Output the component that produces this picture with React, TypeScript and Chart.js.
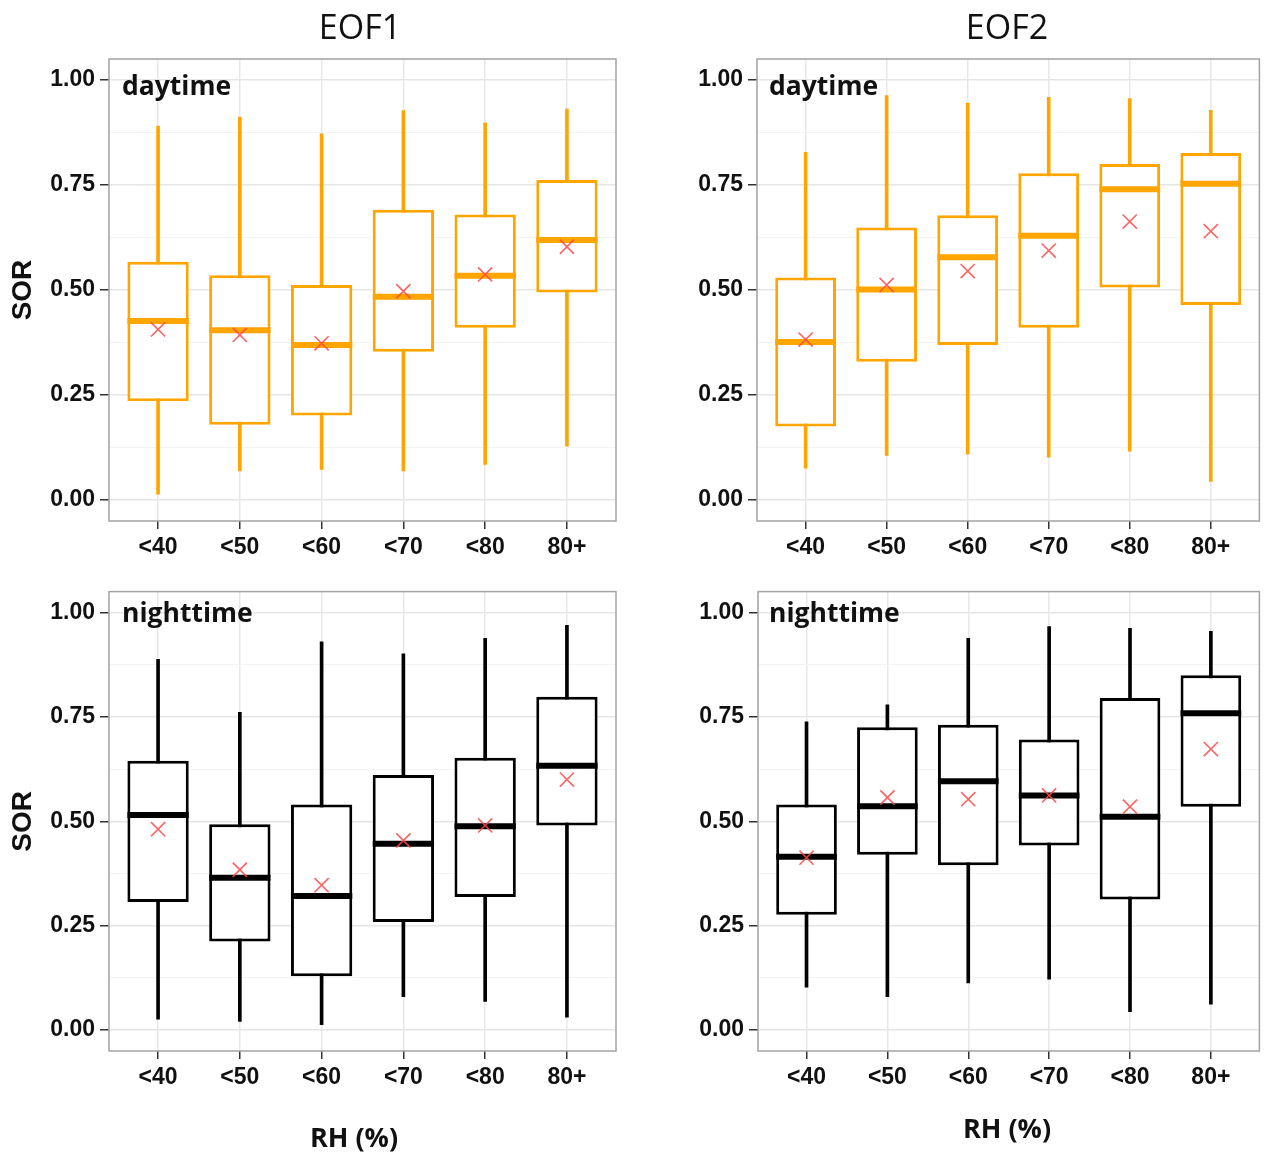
import React, { useEffect, useRef } from 'react';
import { Chart, registerables } from 'chart.js';

Chart.register(...registerables);

// ---------- data ----------
const categories = ['<40', '<50', '<60', '<70', '<80', '80+'];
const yMajorTicks = [0, 0.25, 0.5, 0.75, 1];
const yMinorTicks = [0.125, 0.375, 0.625, 0.875];

// EOF1 daytime
const eof1DayLow = [0.014, 0.069, 0.073, 0.069, 0.085, 0.128];
const eof1DayQ1 = [0.235, 0.179, 0.201, 0.353, 0.41, 0.494];
const eof1DayMedian = [0.426, 0.404, 0.369, 0.484, 0.534, 0.619];
const eof1DayQ3 = [0.567, 0.535, 0.512, 0.691, 0.68, 0.762];
const eof1DayHigh = [0.89, 0.912, 0.872, 0.927, 0.898, 0.931];
const eof1DayMean = [0.406, 0.393, 0.373, 0.497, 0.537, 0.603];

// EOF2 daytime
const eof2DayLow = [0.076, 0.106, 0.109, 0.102, 0.116, 0.044];
const eof2DayQ1 = [0.175, 0.329, 0.369, 0.41, 0.506, 0.464];
const eof2DayMedian = [0.376, 0.501, 0.578, 0.629, 0.74, 0.753];
const eof2DayQ3 = [0.53, 0.649, 0.678, 0.778, 0.8, 0.826];
const eof2DayHigh = [0.828, 0.963, 0.945, 0.959, 0.956, 0.928];
const eof2DayMean = [0.382, 0.512, 0.545, 0.594, 0.663, 0.64];

// EOF1 nighttime
const eof1NightLow = [0.026, 0.021, 0.013, 0.08, 0.069, 0.031];
const eof1NightQ1 = [0.307, 0.212, 0.129, 0.259, 0.319, 0.49];
const eof1NightMedian = [0.515, 0.365, 0.321, 0.446, 0.488, 0.633];
const eof1NightQ3 = [0.645, 0.493, 0.54, 0.611, 0.652, 0.798];
const eof1NightHigh = [0.888, 0.761, 0.93, 0.901, 0.938, 0.969];
const eof1NightMean = [0.481, 0.384, 0.347, 0.454, 0.49, 0.6];

// EOF2 nighttime
const eof2NightLow = [0.103, 0.08, 0.113, 0.122, 0.044, 0.062];
const eof2NightQ1 = [0.276, 0.42, 0.395, 0.442, 0.313, 0.535];
const eof2NightMedian = [0.415, 0.536, 0.596, 0.562, 0.511, 0.759];
const eof2NightQ3 = [0.54, 0.725, 0.731, 0.696, 0.795, 0.85];
const eof2NightHigh = [0.738, 0.779, 0.938, 0.966, 0.962, 0.955];
const eof2NightMean = [0.413, 0.557, 0.553, 0.562, 0.535, 0.673];

// ---------- styles ----------
const ORANGE = '#FFA500';
const BLACK = '#000000';
const MEAN_COLOR = 'rgba(255, 70, 70, 0.85)';
const BOX_WIDTH = 0.75;
const TICK_FONT = { family: '"Liberation Sans", Arial, sans-serif', weight: 'bold' as const, size: 23 };

const panelBorder = {
  id: 'panelBorder',
  afterDatasetsDraw(chart: any) {
    const { ctx, chartArea } = chart;
    const { left, top, right, bottom } = chartArea;
    ctx.save();
    ctx.strokeStyle = '#a3a3a3';
    ctx.lineWidth = 1.5;
    ctx.strokeRect(left, top, right - left, bottom - top);
    ctx.restore();
  },
};

type PanelProps = {
  low: number[];
  q1: number[];
  median: number[];
  q3: number[];
  high: number[];
  mean: number[];
  color: string;
  left: number;
  top: number;
  width: number;
  height: number;
  yAxisWidth: number;
  xAxisHeight: number;
  padTop: number;
  padRight: number;
  showYTitle: boolean;
};

function Panel(p: PanelProps) {
  const ref = useRef<HTMLCanvasElement>(null);
  useEffect(() => {
    const canvas = ref.current;
    if (!canvas) return;
    const isMajor = (v: number) => yMajorTicks.some((m) => Math.abs(m - v) < 1e-9);
    const medianRadius = (c: any) => {
      const s = c.chart.scales.x;
      return Math.abs(s.getPixelForValue(BOX_WIDTH / 2) - s.getPixelForValue(0));
    };
    const chart = new Chart(canvas, {
      type: 'bar',
      data: {
        datasets: [
          {
            type: 'bar',
            label: 'whisker',
            data: categories.map((_, i) => ({ x: i, y: [p.low[i], p.high[i]] })) as any,
            backgroundColor: p.color,
            borderWidth: 0,
            barThickness: 3,
            grouped: false,
            order: 4,
          } as any,
          {
            type: 'bar',
            label: 'box',
            data: categories.map((_, i) => ({ x: i, y: [p.q1[i], p.q3[i]] })) as any,
            backgroundColor: '#ffffff',
            borderColor: p.color,
            borderWidth: 3,
            borderSkipped: false,
            barPercentage: BOX_WIDTH,
            categoryPercentage: 1,
            grouped: false,
            order: 3,
          } as any,
          {
            type: 'scatter',
            label: 'median',
            data: categories.map((_, i) => ({ x: i, y: p.median[i] })),
            pointStyle: 'line',
            pointRadius: medianRadius,
            pointHoverRadius: medianRadius,
            borderColor: p.color,
            pointBorderColor: p.color,
            borderWidth: 6,
            pointBorderWidth: 6,
            order: 2,
          } as any,
          {
            type: 'scatter',
            label: 'mean',
            data: categories.map((_, i) => ({ x: i, y: p.mean[i] })),
            pointStyle: 'crossRot',
            pointRadius: 10,
            pointHoverRadius: 10,
            borderColor: MEAN_COLOR,
            pointBorderColor: MEAN_COLOR,
            borderWidth: 1.6,
            pointBorderWidth: 1.6,
            order: 1,
          } as any,
        ],
      },
      options: {
        animation: false,
        responsive: false,
        events: [],
        layout: { padding: { top: p.padTop, right: p.padRight, left: 0, bottom: 0 } },
        plugins: {
          legend: { display: false },
          tooltip: { enabled: false },
          title: { display: false },
        },
        scales: {
          x: {
            type: 'linear',
            min: -0.6,
            max: categories.length - 0.4,
            offset: false,
            afterBuildTicks: (s: any) => {
              s.ticks = categories.map((_, i) => ({ value: i }));
            },
            afterFit: (s: any) => {
              s.height = p.xAxisHeight;
              s.paddingLeft = 0;
              s.paddingRight = 0;
            },
            grid: {
              offset: false,
              color: '#e8e8e8',
              lineWidth: 1.5,
              tickColor: '#333333',
              tickLength: 8,
              tickWidth: 1.5,
            },
            border: { display: false },
            ticks: {
              callback: (v: any) => categories[Math.round(Number(v))],
              font: TICK_FONT,
              color: '#111111',
              padding: 5,
              maxRotation: 0,
              autoSkip: false,
            },
          } as any,
          y: {
            type: 'linear',
            min: -0.05,
            max: 1.05,
            afterBuildTicks: (s: any) => {
              s.ticks = [...yMajorTicks, ...yMinorTicks].sort((a, b) => a - b).map((v) => ({ value: v }));
            },
            afterFit: (s: any) => {
              s.width = p.yAxisWidth;
              s.paddingTop = 0;
              s.paddingBottom = 0;
            },
            grid: {
              color: (c: any) => (c.tick && isMajor(c.tick.value) ? '#e6e6e6' : '#f3f3f3'),
              lineWidth: (c: any) => (c.tick && isMajor(c.tick.value) ? 1.5 : 1),
              tickColor: (c: any) => (c.tick && isMajor(c.tick.value) ? '#333333' : 'rgba(0,0,0,0)'),
              tickLength: 9,
              tickWidth: 1.5,
            },
            border: { display: false },
            ticks: {
              callback: (v: any) => (isMajor(Number(v)) ? Number(v).toFixed(2) : ''),
              font: TICK_FONT,
              color: '#111111',
              padding: 5,
              autoSkip: false,
            },
            title: {
              display: p.showYTitle,
              text: 'SOR',
              color: '#111111',
              font: { family: '"Liberation Sans", Arial, sans-serif', weight: 'bold', size: 28 },
              padding: { top: 6, bottom: 0 },
            },
          } as any,
        },
      },
      plugins: [panelBorder],
    });
    return () => chart.destroy();
  }, []);

  return (
    <canvas
      ref={ref}
      width={p.width}
      height={p.height}
      style={{ position: 'absolute', left: p.left, top: p.top, width: p.width, height: p.height }}
    />
  );
}

const textBase: React.CSSProperties = {
  position: 'absolute',
  fontFamily: '"Open Sans", "Noto Sans", sans-serif',
  lineHeight: 1,
  color: '#111111',
  whiteSpace: 'nowrap',
};

export default function App() {
  return (
    <div
      style={{
        position: 'absolute',
        left: 0,
        top: 0,
        width: 1271,
        height: 1157,
        background: '#ffffff',
        overflow: 'hidden',
      }}
    >
      <Panel
        low={eof1DayLow} q1={eof1DayQ1} median={eof1DayMedian} q3={eof1DayQ3} high={eof1DayHigh} mean={eof1DayMean}
        color={ORANGE} left={0} top={0} width={630} height={580}
        yAxisWidth={109} xAxisHeight={59} padTop={59} padRight={14} showYTitle={true}
      />
      <Panel
        low={eof2DayLow} q1={eof2DayQ1} median={eof2DayMedian} q3={eof2DayQ3} high={eof2DayHigh} mean={eof2DayMean}
        color={ORANGE} left={640} top={0} width={631} height={580}
        yAxisWidth={117} xAxisHeight={59} padTop={59} padRight={8} showYTitle={false}
      />
      <Panel
        low={eof1NightLow} q1={eof1NightQ1} median={eof1NightMedian} q3={eof1NightQ3} high={eof1NightHigh} mean={eof1NightMean}
        color={BLACK} left={0} top={580} width={630} height={577}
        yAxisWidth={109} xAxisHeight={106} padTop={9} padRight={14} showYTitle={true}
      />
      <Panel
        low={eof2NightLow} q1={eof2NightQ1} median={eof2NightMedian} q3={eof2NightQ3} high={eof2NightHigh} mean={eof2NightMean}
        color={BLACK} left={640} top={580} width={631} height={577}
        yAxisWidth={118} xAxisHeight={106} padTop={9} padRight={6} showYTitle={false}
      />

      <div style={{ ...textBase, left: 260, top: 9, width: 200, textAlign: 'center', fontSize: 34 }}>EOF1</div>
      <div style={{ ...textBase, left: 907, top: 9, width: 200, textAlign: 'center', fontSize: 34 }}>EOF2</div>

      <div style={{ ...textBase, left: 122, top: 72, fontSize: 26.5, fontWeight: 700 }}>daytime</div>
      <div style={{ ...textBase, left: 769, top: 72, fontSize: 26.5, fontWeight: 700 }}>daytime</div>
      <div style={{ ...textBase, left: 122, top: 599, fontSize: 26.5, fontWeight: 700 }}>nighttime</div>
      <div style={{ ...textBase, left: 769, top: 599, fontSize: 26.5, fontWeight: 700 }}>nighttime</div>

      <div style={{ ...textBase, left: 254, top: 1123, width: 200, textAlign: 'center', fontSize: 27, fontWeight: 700 }}>RH (%)</div>
      <div style={{ ...textBase, left: 907, top: 1114, width: 200, textAlign: 'center', fontSize: 27, fontWeight: 700 }}>RH (%)</div>
    </div>
  );
}
